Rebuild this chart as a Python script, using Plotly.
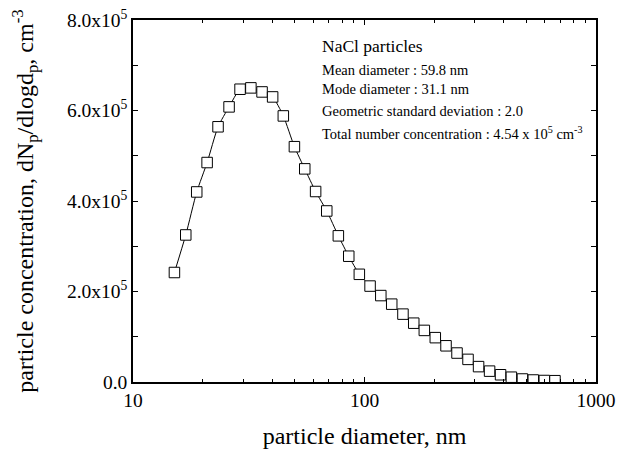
import plotly.graph_objects as go

diameter_nm = [15.1, 16.9, 18.85, 20.9, 23.3, 26.0, 29.0, 32.3, 36.1, 40.1, 44.6, 49.8,
               55.2, 61.5, 68.7, 77.1, 85.5, 95.0, 105.7, 117.6, 131.1, 146.6, 163.2, 181.3,
               202.2, 225, 251, 280, 311, 347, 387, 431, 481, 536, 598, 665]
concentration = [2.42e5, 3.25e5, 4.20e5, 4.85e5, 5.64e5, 6.08e5, 6.47e5, 6.50e5, 6.41e5, 6.30e5, 5.88e5, 5.20e5,
                 4.71e5, 4.21e5, 3.78e5, 3.23e5, 2.78e5, 2.38e5, 2.12e5, 1.91e5, 1.72e5, 1.50e5, 1.30e5, 1.14e5,
                 0.98e5, 0.80e5, 0.64e5, 0.50e5, 0.34e5, 0.24e5, 0.16e5, 0.106e5, 0.066e5, 0.044e5, 0.033e5, 0.029e5]

y_tickvals = [0, 2e5, 4e5, 6e5, 8e5]
y_ticktext = ["0.0", "2.0x10<sup>5</sup>", "4.0x10<sup>5</sup>", "6.0x10<sup>5</sup>", "8.0x10<sup>5</sup>"]
x_tickvals = [10, 100, 1000]
x_ticktext = ["10", "100", "1000"]

info_lines = [
    ("NaCl particles", 17.5),
    ("Mean diameter : 59.8 nm", 14.5),
    ("Mode diameter : 31.1 nm", 14.5),
    ("Geometric standard deviation : 2.0", 14.5),
    ("Total number concentration : 4.54 x 10<sup>5</sup> cm<sup>-3</sup>", 14.5),
]
info_y = [0.928, 0.862, 0.809, 0.749, 0.688]

FONT = "Liberation Serif"

fig = go.Figure()
fig.add_trace(go.Scatter(
    x=diameter_nm, y=concentration, mode="lines+markers",
    line=dict(color="black", width=1, shape="spline", smoothing=0.6),
    marker=dict(symbol="square", size=10.5, color="white", line=dict(color="black", width=1)),
    showlegend=False,
))

minor_x = [v * m for m in (10, 100) for v in range(2, 10)]

fig.update_layout(
    width=626, height=450,
    margin=dict(l=125, r=38, t=12, b=76),
    paper_bgcolor="white", plot_bgcolor="white",
    font=dict(family=FONT, color="black", size=19),
    xaxis=dict(
        type="log", range=[1, 3], automargin=False, ticklabeloverflow="allow",
        tickvals=x_tickvals, ticktext=x_ticktext,
        ticks="inside", ticklen=5, tickwidth=1, tickcolor="black",
        minor=dict(tickvals=minor_x, ticks="inside", ticklen=3, tickcolor="black", showgrid=False),
        showline=True, linecolor="black", linewidth=1.5, mirror="ticks",
        showgrid=False, zeroline=False,
        tickfont=dict(size=19.5),
        title=dict(text="particle diameter, nm", font=dict(size=24), standoff=17),
    ),
    yaxis=dict(
        range=[0, 8e5], automargin=False, ticklabeloverflow="allow",
        tickvals=y_tickvals, ticktext=y_ticktext,
        ticks="inside", ticklen=5, tickwidth=1, tickcolor="black",
        minor=dict(dtick=1e5, ticks="inside", ticklen=5, tickcolor="black", showgrid=False),
        showline=True, linecolor="black", linewidth=1.5, mirror="ticks",
        showgrid=False, zeroline=False,
        tickfont=dict(size=19.5),
        title=dict(text="particle concentration, dN<sub>p</sub>/dlogd<sub>p</sub>, cm<sup>-3</sup>",
                   font=dict(size=24), standoff=28),
    ),
)

for (txt, size), yy in zip(info_lines, info_y):
    fig.add_annotation(x=0.404, y=yy, xref="paper", yref="paper", text=txt, showarrow=False,
                       xanchor="left", yanchor="middle", font=dict(family=FONT, size=size, color="black"))

fig.write_html("out.html")
